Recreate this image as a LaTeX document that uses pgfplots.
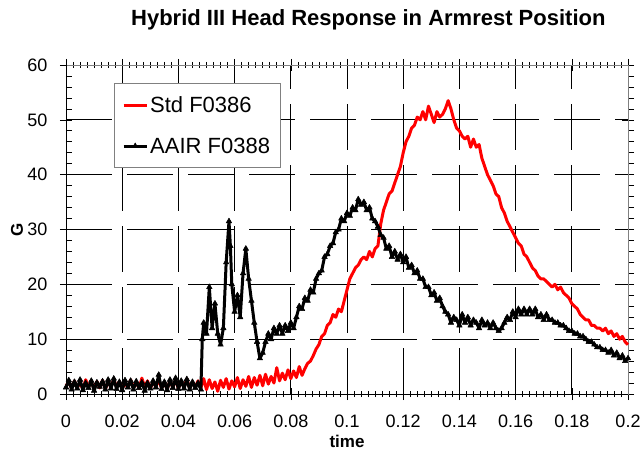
\documentclass[border=0pt]{standalone}
\usepackage{pgfplots}
\pgfplotsset{compat=1.18}
\usepackage{fontspec}
\setmainfont{Liberation Sans}
\begin{document}
\begin{tikzpicture}
\begin{axis}[
  scale only axis,
  width=562bp, height=329bp,
  xmin=0, xmax=0.2, ymin=0, ymax=60,
  xtick={0,0.02,...,0.2},
  xticklabels={0,0.02,0.04,0.06,0.08,0.1,0.12,0.14,0.16,0.18,0.2},
  ytick={0,10,...,60},
  minor x tick num=7,
  minor y tick num=4,
  tick align=center,
  major tick length=12bp,
  minor tick length=6bp,
  minor y tick style={xshift=3bp},
  tick style={black, line width=0.6bp},
  axis line style={gray, line width=0.8bp},
  grid=major,
  major grid style={black, line width=0.8bp, dash pattern=on 46bp off 15bp},
  /pgf/number format/assume math mode=true,
  ticklabel style={font=\fontsize{18bp}{20bp}\selectfont},
  xticklabel style={yshift=-11bp},
  yticklabel style={xshift=-9bp},
  xlabel={\textbf{time}},
  ylabel={\textbf{G}},
  label style={font=\fontsize{17bp}{19bp}\selectfont},
  xlabel style={at={(axis description cs:0.5,0)}, anchor=center, yshift=-47bp},
  ylabel style={at={(axis description cs:-0.0872,0.5)}, anchor=center},
  title={\textbf{Hybrid III Head Response in Armrest Position}},
  title style={font=\fontsize{22bp}{24bp}\selectfont, at={(axis description cs:0.538,1)}, anchor=center, yshift=39bp},
  legend style={at={(0.0854,0.945)}, anchor=north west, draw=gray, fill=white,
    font=\fontsize{22bp}{24bp}\selectfont, row sep=20bp, inner xsep=8bp, inner ysep=11bp},
  legend cell align=left,
  legend image code/.code={\draw[mark repeat=2,mark phase=2,#1] plot coordinates {(0bp,0bp) (11.5bp,0bp) (23bp,0bp)};},
  clip=false,
]
\addplot[red, line width=3bp, line join=round, no markers] coordinates {
(0.000,1.5)(0.001,2.2)(0.002,1.0)(0.003,2.4)(0.004,1.2)(0.005,2.0)(0.006,0.9)(0.007,2.6)(0.008,1.4)(0.009,2.1)
(0.010,1.0)(0.011,2.3)(0.012,1.1)(0.013,2.5)(0.014,0.9)(0.015,2.2)(0.016,1.3)(0.017,2.7)(0.018,1.2)(0.019,2.3)
(0.020,1.0)(0.021,2.0)(0.022,1.2)(0.023,2.6)(0.024,1.1)(0.025,2.2)(0.026,1.0)(0.027,2.9)(0.028,1.3)(0.029,2.4)
(0.030,1.0)(0.031,2.2)(0.032,1.4)(0.033,2.5)(0.034,1.1)(0.035,2.0)(0.036,0.9)(0.037,2.4)(0.038,1.2)(0.039,2.6)
(0.040,1.0)(0.041,2.3)(0.042,1.2)(0.043,2.8)(0.044,1.0)(0.045,2.1)(0.046,1.3)(0.047,2.4)(0.048,1.1)
(0.049,2.8)(0.050,0.8)(0.051,2.6)(0.052,1.0)(0.053,2.2)(0.054,0.5)(0.055,2.5)(0.056,1.2)(0.057,2.8)(0.058,0.9)(0.059,2.4)
(0.060,1.3)(0.061,3.0)(0.062,1.0)(0.063,2.6)(0.064,1.4)(0.065,3.2)(0.066,1.2)(0.067,3.0)(0.068,1.6)(0.069,3.4)
(0.070,1.5)(0.071,3.6)(0.072,1.8)(0.073,3.2)(0.074,2.0)(0.075,4.8)(0.076,2.4)(0.077,3.8)(0.078,2.6)(0.079,4.4)
(0.080,2.8)(0.081,4.2)(0.082,3.0)(0.083,5.0)(0.084,3.4)(0.085,4.6)(0.086,5.6)(0.087,6.0)(0.088,7.0)(0.089,8.2)
(0.090,9.0)(0.091,10.5)(0.092,11)(0.093,12.5)(0.094,13)(0.095,14.5)(0.096,14)(0.097,15.5)(0.098,15)(0.099,17)
(0.100,19)(0.101,21)(0.102,22)(0.103,23)(0.104,23.5)(0.105,24.5)(0.106,25)(0.107,24.5)(0.108,26)(0.109,25)
(0.110,26.5)(0.111,27)(0.112,31)(0.113,33.5)(0.114,35)(0.115,36.5)(0.116,37)(0.117,38.5)(0.118,40)(0.119,41.5)
(0.120,44)(0.121,46)(0.122,47)(0.123,48.5)(0.124,49)(0.125,50.5)(0.126,50)(0.127,51.5)(0.128,50)(0.129,52.5)
(0.130,51)(0.131,49.5)(0.132,51.5)(0.133,50.5)(0.134,51)(0.135,52)(0.136,53.5)(0.137,52)(0.138,50)(0.139,48.5)
(0.140,48)(0.141,47)(0.142,46.5)(0.143,47)(0.144,45)(0.145,46.5)(0.146,45)(0.147,45.5)(0.148,43)(0.149,41.5)
(0.150,40)(0.151,39)(0.152,38)(0.153,36.5)(0.154,36)(0.155,34)(0.156,33)(0.157,31.5)(0.158,30.5)(0.159,29.5)
(0.160,28.5)(0.161,27.5)(0.162,27)(0.163,25.5)(0.164,25)(0.165,24)(0.166,23)(0.167,22.5)(0.168,21.5)(0.169,21)
(0.170,21)(0.171,20.5)(0.172,20)(0.173,19.5)(0.174,20)(0.175,19)(0.176,19.5)(0.177,18.5)(0.178,18)(0.179,17.5)
(0.180,16.5)(0.181,16)(0.182,15.5)(0.183,14.5)(0.184,14)(0.185,13.5)(0.186,13.5)(0.187,12.5)(0.188,12.5)(0.189,12)
(0.190,12)(0.191,11.5)(0.192,12)(0.193,11)(0.194,11.5)(0.195,10.5)(0.196,11)(0.197,10)(0.198,10.5)(0.199,9.5)(0.200,9)
};
\addlegendentry{Std F0386}
\addplot[black, line width=3bp, line join=round, mark=triangle*, mark size=3.2bp, mark options={solid, line width=0.5bp}] coordinates {
(0.000,1.2)(0.001,2.5)(0.002,0.8)(0.003,2.2)(0.004,1.0)(0.005,2.6)(0.006,0.7)(0.007,2.0)(0.008,1.1)(0.009,2.4)
(0.010,0.6)(0.011,2.1)(0.012,1.3)(0.013,2.3)(0.014,0.8)(0.015,2.6)(0.016,1.0)(0.017,2.8)(0.018,0.9)(0.019,2.2)
(0.020,0.7)(0.021,2.5)(0.022,1.2)(0.023,2.4)(0.024,0.8)(0.025,2.3)(0.026,1.1)(0.027,2.1)(0.028,0.6)(0.029,2.0)
(0.030,1.0)(0.031,2.4)(0.032,1.2)(0.033,3.5)(0.034,0.9)(0.035,2.2)(0.036,0.7)(0.037,2.6)(0.038,1.1)(0.039,2.9)
(0.040,0.9)(0.041,2.4)(0.042,1.0)(0.043,2.7)(0.044,0.8)(0.045,2.2)(0.046,1.1)(0.047,2.0)(0.048,0.8)
(0.0485,10)(0.049,13)(0.050,11)(0.051,19.5)(0.052,12)(0.053,16.5)(0.054,11)(0.055,9)(0.056,12)(0.057,24)(0.058,31.5)(0.0585,27)(0.059,20)
(0.060,15)(0.061,18)(0.062,14)(0.063,22)(0.064,26.5)(0.065,21)(0.066,17)(0.067,13)(0.068,9.5)(0.069,6.5)
(0.070,7.5)(0.071,9.5)(0.072,11)(0.073,10)(0.074,12)(0.075,11)(0.076,12.5)(0.077,11)(0.078,12.5)(0.079,11.5)
(0.080,13)(0.081,12)(0.082,14)(0.083,16)(0.084,15.5)(0.085,17.5)(0.086,17)(0.087,19)(0.088,18.5)(0.089,21)
(0.090,22)(0.091,22.5)(0.092,25)(0.093,25.5)(0.094,27)(0.095,27.5)(0.096,29.5)(0.097,30)(0.098,32)(0.099,31.5)
(0.100,33)(0.101,32.5)(0.102,34)(0.103,33.5)(0.104,35.5)(0.105,34.5)(0.106,35)(0.107,33.5)(0.108,34)(0.109,32)
(0.110,31.5)(0.111,30.5)(0.112,29)(0.113,28.5)(0.114,26.5)(0.115,27)(0.116,25)(0.117,26)(0.118,24.5)(0.119,25.5)
(0.120,24)(0.121,25)(0.122,23)(0.123,23.5)(0.124,22)(0.125,22.5)(0.126,21)(0.127,21)(0.128,19.5)(0.129,19.5)
(0.130,18)(0.131,18.5)(0.132,17)(0.133,17.5)(0.134,16)(0.135,15)(0.136,14.5)(0.137,13)(0.138,14)(0.139,13.5)
(0.140,12.5)(0.141,14.5)(0.142,13)(0.143,14)(0.144,12.5)(0.145,13.5)(0.146,13)(0.147,12)(0.148,13.5)(0.149,12.5)
(0.150,13)(0.151,12)(0.152,13)(0.153,12)(0.154,11.5)(0.155,12)(0.156,13)(0.157,14)(0.158,13.5)(0.159,15)
(0.160,14)(0.161,15.5)(0.162,14.5)(0.163,15.5)(0.164,14.5)(0.165,15.5)(0.166,14.5)(0.167,15.5)(0.168,14)(0.169,14.5)
(0.170,13.5)(0.171,14.5)(0.172,13.5)(0.173,13.5)(0.174,13)(0.175,13)(0.176,12.5)(0.177,12.5)(0.178,12)(0.179,11.5)
(0.180,11.5)(0.181,11)(0.182,11)(0.183,10.5)(0.184,10.5)(0.185,10)(0.186,9.5)(0.187,9.5)(0.188,9)(0.189,8.5)
(0.190,8.5)(0.191,8)(0.192,8)(0.193,7.5)(0.194,8)(0.195,7)(0.196,7.5)(0.197,6.5)(0.198,7)(0.199,6)(0.200,6.5)
};
\addlegendentry{AAIR F0388}
\draw[black, line width=0.8bp] (rel axis cs:0,1) -- (rel axis cs:0,0) -- (rel axis cs:1,0);
\coordinate (SW) at (rel axis cs:0,0);
\coordinate (NE) at (rel axis cs:1,1);
\end{axis}
\pgfresetboundingbox
\path[use as bounding box] ([shift={(-66bp,-59bp)}]SW) rectangle ([shift={(13bp,65bp)}]NE);
\end{tikzpicture}
\end{document}
